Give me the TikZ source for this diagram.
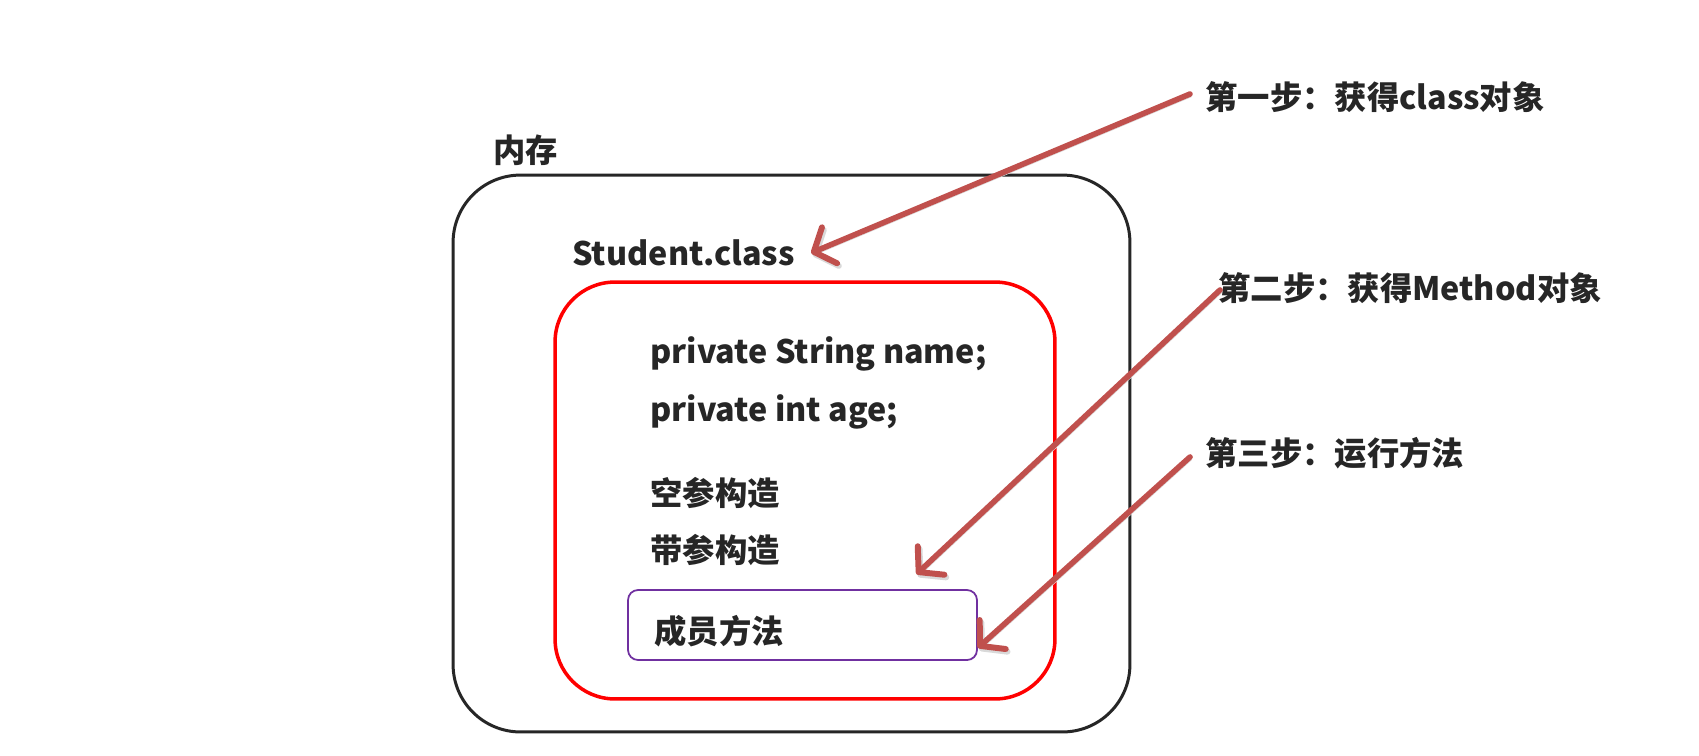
\documentclass[tikz,border=0pt]{standalone}
\usepackage{fontspec}
\setmainfont{Noto Sans CJK SC}
\usepackage{xcolor}
\usepackage{tikz}
\usetikzlibrary{arrows.meta,positioning,calc}

\definecolor{stepred}{HTML}{C0504D}
\definecolor{txtgray}{HTML}{262626}
\definecolor{methodpurple}{HTML}{7030A0}

\tikzset{
  lbl/.style={anchor=west, inner sep=0pt, text=txtgray, font=\fontsize{18.4}{22}\selectfont\bfseries},
  steparrow/.style={draw=stepred, line width=3.2pt, line cap=round,
    -{Straight Barb[round, length=0.34cm, width=0.78cm, line width=3.4pt]},
    preaction={draw=black!15, transform canvas={shift={(1pt,-1.5pt)}}}}
}

\begin{document}
\begin{tikzpicture}[x=0.02cm, y=-0.02cm]
\useasboundingbox (0,0) rectangle (1699,755);
\fill[white] (0,0) rectangle (1699,755);

% Memory box
\node[lbl] (memlbl) at (493,150) {内存};
\node[draw=txtgray, line width=1.7pt, rounded corners=1.35cm, minimum width=13.54cm, minimum height=11.14cm] (mem) at (791.5,453.5) {};

% Class box
\node[lbl] (sc) at (572,253) {Student.class};
\node[draw=red, line width=2pt, rounded corners=1.2cm, minimum width=10cm, minimum height=8.34cm] (clsbox) at (805,490.5) {};

\node[lbl] (fname) at (650,354) {private String name;};
\node[lbl] (fage) at (650,412) {private int age;};
\node[lbl] (ctor1) at (650,493) {空参构造};
\node[lbl] (ctor2) at (650,550) {带参构造};

% Method box
\node[draw=methodpurple, line width=1pt, rounded corners=0.2cm, minimum width=6.98cm, minimum height=1.4cm] (method) at (802.5,625) {};
\node[lbl] (mname) at (654,631) {成员方法};

% Steps
\node[lbl] (s1) at (1205,97) {第一步：获得class对象};
\node[lbl] (s2) at (1218,288) {第二步：获得Method对象};
\node[lbl] (s3) at (1205,453) {第三步：运行方法};

\coordinate (t2) at ([xshift=2.28cm, yshift=0.3cm]method.north);
\coordinate (t3) at ([yshift=0.26cm]method.south east);

\draw[steparrow] ([xshift=-0.3cm, yshift=0.06cm]s1.west) -- ([xshift=0.32cm]sc.east);
\draw[steparrow] ([xshift=0.04cm, yshift=-0.04cm]s2.west) -- (t2);
\draw[steparrow] ([xshift=-0.3cm, yshift=-0.08cm]s3.west) -- (t3);
\end{tikzpicture}
\end{document}
